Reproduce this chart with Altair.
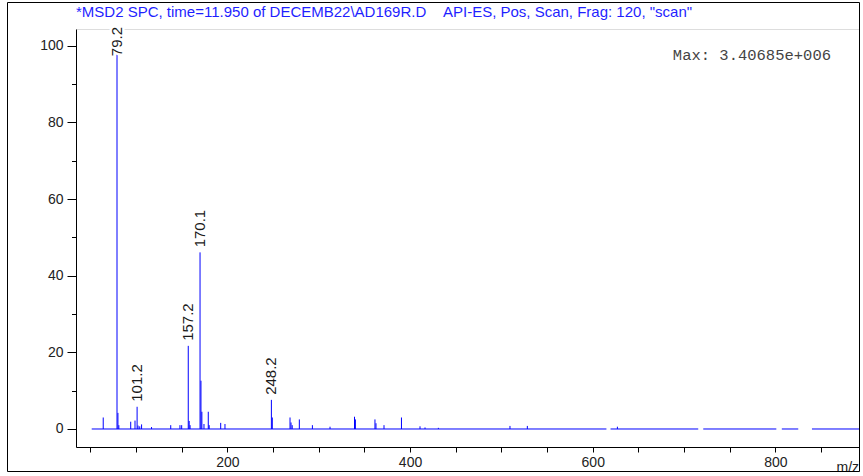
import altair as alt
import pandas as pd

# ---- data ----
peak_mz = [64.1, 79.2, 80.2, 81.2, 94.2, 98.9, 101.2, 102.2, 104.1, 106.1,
           117.0, 138.0, 148.1, 150.0, 157.2, 158.2, 159.2, 170.1, 171.1, 172.1,
           174.4, 179.1, 180.1, 192.7, 197.4, 248.2, 249.2, 268.6, 269.7, 271.0,
           278.8, 293.1, 312.4, 339.2, 340.2, 361.6, 362.7, 371.5, 390.6, 410.9,
           416.4, 431.0, 509.4, 528.4, 627.0]
peak_int = [3.0, 100, 4.2, 1.0, 1.9, 2.2, 5.8, 0.9, 0.7, 1.2,
            0.5, 1.0, 1.0, 1.0, 21.7, 2.1, 1.0, 46.1, 12.6, 4.5,
            1.3, 4.5, 1.0, 1.6, 1.3, 7.6, 3.0, 3.0, 1.7, 1.0,
            2.5, 1.0, 0.6, 3.2, 2.5, 2.5, 1.5, 1.0, 3.0, 0.7,
            0.4, 0.3, 0.8, 0.8, 0.6]

base_start = [51.5, 619.5, 721.0, 807.0, 840.0]
base_end = [615.0, 715.5, 801.0, 825.0, 891.5]

label_mz = [79.2, 101.2, 157.2, 170.1, 248.2]
label_int = [100, 5.8, 21.7, 46.1, 7.6]
label_text = ["79.2", "101.2", "157.2", "170.1", "248.2"]

x_ticks = list(range(50, 900, 50))
y_ticks = list(range(0, 101, 5))

title_text = "*MSD2 SPC, time=11.950 of DECEMB22\\AD169R.D\u00a0\u00a0\u00a0\u00a0API-ES, Pos, Scan, Frag: 120, \"scan\""
max_text = "Max: 3.40685e+006"

X_DOMAIN = [34.3, 891.5]
Y_DOMAIN = [-4.7, 104.4]
LABEL_CAP = 96.0  # labels of peaks too tall are kept inside the frame

peaks = pd.DataFrame({"mz": peak_mz, "intensity": peak_int})
base = pd.DataFrame({"start": base_start, "end": base_end, "zero": [0] * len(base_start)})
labels = pd.DataFrame({
    "mz": label_mz,
    "anchor": [min(v, LABEL_CAP) for v in label_int],
    "text": label_text,
})
one = pd.DataFrame({"a": [0]})

FONT = "Liberation Sans"
BLUE = "#0000ff"

x_scale = alt.Scale(domain=X_DOMAIN, nice=False, zero=False)
y_scale = alt.Scale(domain=Y_DOMAIN, nice=False, zero=False)

x_axis = alt.Axis(
    values=x_ticks,
    labelExpr="datum.value % 200 === 0 ? datum.label : ''",
    tickSize=5, tickColor="black", domainColor="black",
    labelFont=FONT, labelFontSize=14, labelColor="#222", labelPadding=3,
    grid=False, title="m/z", titleFont=FONT, titleFontSize=14,
    titleFontWeight="normal", titleColor="#222",
    titleX=760, titleY=13, titleAlign="left", titleBaseline="top",
)
y_axis = alt.Axis(
    values=y_ticks,
    labelExpr="datum.value % 20 === 0 ? datum.label : ''",
    tickSize={"condition": {"test": "datum.value % 20 === 0", "value": 9}, "value": 4.5},
    tickColor="black", domainColor="black",
    labelFont=FONT, labelFontSize=14, labelColor="#222", labelPadding=4,
    grid=False, title=None,
)

frame = alt.Chart(one).mark_rect(
    fillOpacity=0, stroke="black", strokeWidth=1
).encode(
    x=alt.value(-68.5), x2=alt.value(783.5), y=alt.value(-26.5), y2=alt.value(442.5)
)

sticks = alt.Chart(peaks).mark_rule(color=BLUE, strokeWidth=1).encode(
    x=alt.X("mz:Q", scale=x_scale, axis=x_axis),
    y=alt.Y("intensity:Q", scale=y_scale, axis=y_axis),
    y2=alt.datum(0),
)

baseline = alt.Chart(base).mark_rule(color=BLUE, strokeWidth=1).encode(
    x=alt.X("start:Q", scale=x_scale),
    x2="end:Q",
    y=alt.Y("zero:Q", scale=y_scale),
)

halo = alt.Chart(labels).mark_text(
    angle=270, align="left", baseline="middle", dx=5,
    font=FONT, fontSize=15, color="white", stroke="white", strokeWidth=5,
).encode(
    x=alt.X("mz:Q", scale=x_scale),
    y=alt.Y("anchor:Q", scale=y_scale),
    text="text:N",
)

label_marks = alt.Chart(labels).mark_text(
    angle=270, align="left", baseline="middle", dx=5,
    font=FONT, fontSize=15, color="#1a1a1a",
).encode(
    x=alt.X("mz:Q", scale=x_scale),
    y=alt.Y("anchor:Q", scale=y_scale),
    text="text:N",
)

title = alt.Chart(one).mark_text(
    text=title_text, align="left", baseline="alphabetic",
    font=FONT, fontSize=15, color="#1f1fff",
).encode(x=alt.value(0), y=alt.value(-12))

max_label = alt.Chart(one).mark_text(
    text=max_text, align="right", baseline="alphabetic",
    font="Liberation Mono", fontSize=15.5, color="#444",
).encode(x=alt.value(755), y=alt.value(30.5))

chart = alt.layer(
    frame, sticks, baseline, halo, label_marks, title, max_label
).properties(
    width=783, height=418,
    padding={"left": 76, "top": 29, "right": 4, "bottom": 29},
    autosize=alt.AutoSizeParams(type="none"),
).configure_view(stroke=None).configure(background="white")

chart.save("out.html", embed_options={"renderer": "svg", "actions": False})
